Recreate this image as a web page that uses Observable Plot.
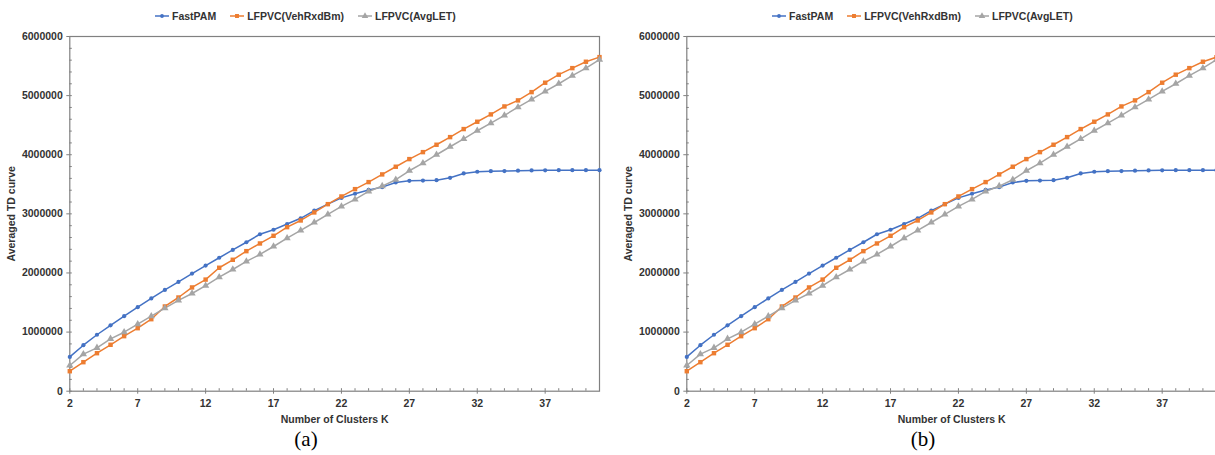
<!DOCTYPE html>
<html>
<head>
<meta charset="utf-8">
<script src="https://cdn.jsdelivr.net/npm/d3@7"></script>
<script src="https://cdn.jsdelivr.net/npm/@observablehq/plot@0.6"></script>
<style>
  html, body { margin: 0; padding: 0; background: #fff; overflow: hidden; }
  #wrap { width: 1240px; height: 455px; white-space: nowrap; font-size: 0; }
  .panel { position: relative; display: inline-block; width: 617px; height: 455px; vertical-align: top; }
  .legend { height: 28px; display: flex; align-items: center; padding-left: 155px; gap: 14px;
            font: bold 10.5px "Liberation Sans", Arial, sans-serif; color: #333; padding-top: 4px; box-sizing: border-box; }
  .legend .item { display: flex; align-items: center; gap: 3px; }
  .caption { position: absolute; top: 427px; left: 306px; transform: translateX(-50%);
             font: 21px "Liberation Serif", "Times New Roman", serif; color: #000; }
</style>
</head>
<body>
<div id="wrap"></div>
<script>
// ---- data ----
const ks = [2,3,4,5,6,7,8,9,10,11,12,13,14,15,16,17,18,19,20,21,22,23,24,25,26,27,28,29,30,31,32,33,34,35,36,37,38,39,40,41];
const fastPAM = [580000,778000,955000,1115000,1269000,1421000,1569000,1713000,1848000,1989000,2125000,2257000,2390000,2520000,2655000,2731000,2828000,2925000,3055000,3164000,3270000,3340000,3405000,3452000,3530000,3558000,3563000,3570000,3610000,3684000,3712000,3722000,3724000,3730000,3734000,3737000,3738000,3738000,3739000,3739000];
const vehRxdBm = [338000,491000,643000,785000,931000,1066000,1218000,1433000,1585000,1755000,1888000,2088000,2223000,2369000,2499000,2629000,2775000,2888000,3024000,3164000,3294000,3418000,3537000,3667000,3797000,3926000,4044000,4169000,4298000,4434000,4558000,4682000,4817000,4919000,5059000,5218000,5354000,5465000,5573000,5651000];
const avgLET = [435000,626000,734000,886000,998000,1134000,1269000,1404000,1535000,1653000,1786000,1929000,2059000,2195000,2313000,2448000,2589000,2719000,2854000,2990000,3127000,3244000,3379000,3470000,3577000,3729000,3858000,4000000,4135000,4268000,4406000,4535000,4665000,4805000,4936000,5071000,5201000,5337000,5465000,5607000];
const seriesNames = ["FastPAM", "LFPVC(VehRxdBm)", "LFPVC(AvgLET)"];
const seriesColors = ["#4472C4", "#ED7D31", "#A5A5A5"];
const seriesSymbols = ["circle", "square", "triangle"];
const xTickLabels = [2,7,12,17,22,27,32,37];
const yTickLabels = [0,1000000,2000000,3000000,4000000,5000000,6000000];
const panelCaptions = ["(a)", "(b)"];

const seriesValues = [fastPAM, vehRxdBm, avgLET];
const rows = seriesNames.flatMap((s, i) => ks.map((k, j) => ({k, v: seriesValues[i][j], series: s})));

const W = 617, H = 400, mL = 69.3, mR = 18, mT = 8, mB = 37.3;
const plotW = W - mL - mR, plotH = H - mT - mB;
const xMinor = d3.range(ks[0], ks[ks.length - 1] + 1);
const yMinor = d3.range(0, 6000001, 200000);
const dotR = [2.1, 2.5, 2.7];

function legend() {
  const div = document.createElement("div");
  div.className = "legend";
  seriesNames.forEach((s, i) => {
    const it = document.createElement("div");
    it.className = "item";
    const sym = d3.symbol(d3["symbol" + seriesSymbols[i][0].toUpperCase() + seriesSymbols[i].slice(1)], Math.PI * dotR[i] * dotR[i] * 0.8)();
    it.innerHTML = `<svg width="14" height="10"><line x1="0" x2="14" y1="5" y2="5" stroke="${seriesColors[i]}" stroke-width="1.5"/><path d="${sym}" transform="translate(7,5)" fill="${seriesColors[i]}"/></svg><span>${s}</span>`;
    div.appendChild(it);
  });
  return div;
}

function chart() {
  return Plot.plot({
    width: W, height: H,
    marginLeft: mL, marginRight: mR, marginTop: mT, marginBottom: mB,
    style: {fontFamily: "'Liberation Sans', Arial, sans-serif", fontSize: "10.5px", fontWeight: "bold", color: "#333", background: "#fff", overflow: "visible"},
    x: {domain: [2, 41]},
    y: {domain: [0, 6000000]},
    color: {domain: seriesNames, range: seriesColors},
    marks: [
      Plot.tickX(xMinor, {x: d => d, insetTop: plotH - 2.5, stroke: "#808080"}),
      Plot.tickY(yMinor, {y: d => d, insetRight: plotW - 2.5, stroke: "#808080"}),
      Plot.axisX({ticks: xTickLabels, tickSize: 3, tickPadding: 5, stroke: "#808080",
        label: "Number of Clusters K", labelAnchor: "center", labelArrow: "none", labelOffset: 32}),
      Plot.axisY({ticks: yTickLabels, tickSize: 3, tickPadding: 4, stroke: "#808080", tickFormat: d3.format("d"),
        label: "Averaged TD curve", labelAnchor: "center", labelArrow: "none", labelOffset: 62}),
      Plot.frame({stroke: "#808080", strokeWidth: 1.2}),
      Plot.line(rows, {x: "k", y: "v", stroke: "series", z: "series", strokeWidth: 1.5}),
      ...seriesNames.map((s, i) => Plot.dot(rows.filter(d => d.series === s), {x: "k", y: "v", symbol: () => seriesSymbols[i], fill: seriesColors[i], r: dotR[i]}))
    ]
  });
}

const wrap = document.getElementById("wrap");
panelCaptions.forEach(c => {
  const p = document.createElement("div");
  p.className = "panel";
  p.appendChild(legend());
  p.appendChild(chart());
  const cap = document.createElement("div");
  cap.className = "caption";
  cap.textContent = c;
  p.appendChild(cap);
  wrap.appendChild(p);
});
</script>
</body>
</html>
